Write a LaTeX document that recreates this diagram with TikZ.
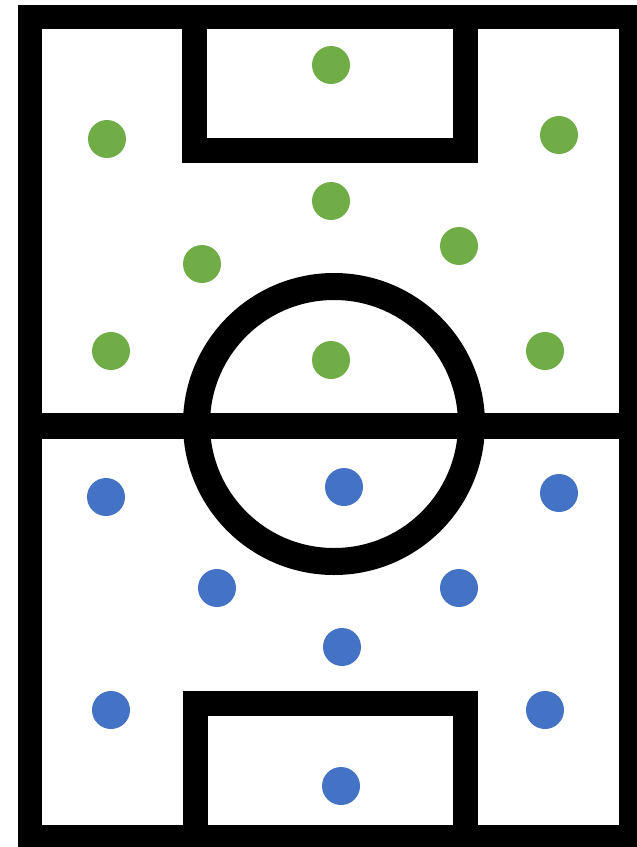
\documentclass[tikz,border=0pt]{standalone}
\definecolor{cgreen}{HTML}{70AD47}
\definecolor{cblue}{HTML}{4472C4}
\tikzset{
  pitch/.style={draw=black, line width=25pt, line join=miter},
  player/.style={circle, fill=#1, inner sep=0pt, minimum size=38pt},
  player/.default=cgreen,
}
\begin{document}
\begin{tikzpicture}[x=1pt, y=-1pt]
  \useasboundingbox (0,0) rectangle (637,847);
  \clip (0,0) rectangle (637,847);
  % pitch lines
  \draw[pitch, line width=24pt] (30,17) rectangle (631,837);
  \draw[pitch] (194,17) -- (194,150) -- (465,150) -- (465,17);
  \draw[pitch] (195,837) -- (195,703) -- (465,703) -- (465,837);
  \draw[pitch, line width=26pt] (30,426) -- (631,426);
  \draw[pitch, line width=27pt] (334,424) circle[radius=137.5];
  % green team
  \foreach \x/\y [count=\i] in {331/65, 107/139, 559/135, 331/201, 202/264, 459/246, 111/351, 331/360, 545/351}
    \node[player=cgreen] (g\i) at (\x,\y) {};
  % blue team
  \foreach \x/\y [count=\i] in {106/497, 344/487, 559/493, 217/588, 459/588, 342/647, 111/710, 545/710, 341/786}
    \node[player=cblue] (b\i) at (\x,\y) {};
\end{tikzpicture}
\end{document}
